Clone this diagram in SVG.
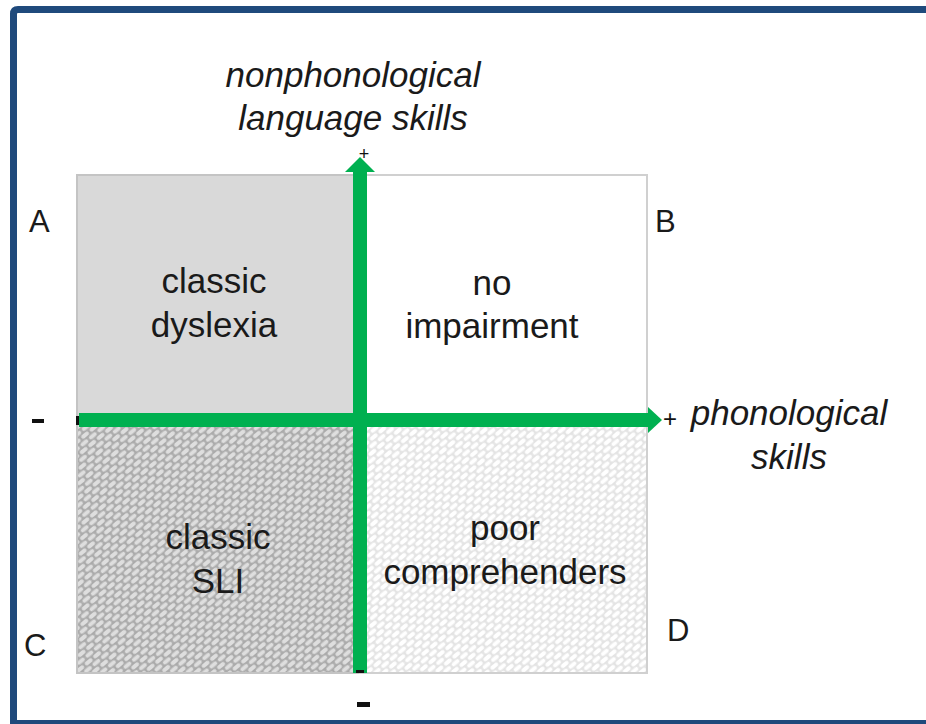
<svg xmlns="http://www.w3.org/2000/svg" width="926" height="724" viewBox="0 0 926 724">
  <style>
    .lbl { font-family: "Liberation Sans", Arial, sans-serif; font-size: 35px; fill: #1a1a1a; text-anchor: middle; }
    .ax { font-family: "Liberation Sans", Arial, sans-serif; font-size: 35px; font-style: italic; fill: #1a1a1a; text-anchor: middle; }
    .corner { font-family: "Liberation Sans", Arial, sans-serif; font-size: 31px; fill: #1a1a1a; }
    .plus { font-family: "Liberation Sans", Arial, sans-serif; fill: #111; text-anchor: middle; }
    .axis { stroke: #00B050; stroke-width: 14; fill: none; }
  </style>
  <defs>
    <!-- woven brick pattern, dark and light variants -->
    <pattern id="weaveDark" width="11" height="11" patternUnits="userSpaceOnUse" patternTransform="rotate(-40)">
      <rect width="11" height="11" fill="#ababab"/>
      <rect x="1" y="1" width="9" height="4" rx="2" fill="#dedede"/>
      <rect x="-4.5" y="6.5" width="9" height="4" rx="2" fill="#dedede"/>
      <rect x="6.5" y="6.5" width="9" height="4" rx="2" fill="#dedede"/>
    </pattern>
    <pattern id="weaveLight" width="11" height="11" patternUnits="userSpaceOnUse" patternTransform="rotate(-40)">
      <rect width="11" height="11" fill="#e4e4e4"/>
      <rect x="1" y="1" width="9" height="4" rx="2" fill="#ffffff"/>
      <rect x="-4.5" y="6.5" width="9" height="4" rx="2" fill="#ffffff"/>
      <rect x="6.5" y="6.5" width="9" height="4" rx="2" fill="#ffffff"/>
    </pattern>
  </defs>

  <rect width="926" height="724" fill="#ffffff"/>

  <!-- frame -->
  <path d="M13.5 724 V14 Q13.5 9.5 18 9.5 H926" fill="none" stroke="#1f4a7c" stroke-width="7"/>
  <rect x="10" y="720" width="916" height="4" fill="#1f4a7c"/>

  <!-- quadrants -->
  <g id="quadA">
    <rect x="77" y="175" width="283" height="246" fill="#d9d9d9" stroke="#c4c4c4" stroke-width="2"/>
    <text class="lbl" x="214" y="293">classic</text>
    <text class="lbl" x="214" y="337">dyslexia</text>
  </g>
  <g id="quadB">
    <rect x="360" y="175" width="287" height="246" fill="#ffffff" stroke="#d0d0d0" stroke-width="2"/>
    <text class="lbl" x="492" y="295">no</text>
    <text class="lbl" x="492" y="338">impairment</text>
  </g>
  <g id="quadC">
    <rect x="77" y="421" width="283" height="252" fill="url(#weaveDark)" stroke="#c4c4c4" stroke-width="2"/>
    <text class="lbl" x="218" y="549">classic</text>
    <text class="lbl" x="218" y="593">SLI</text>
  </g>
  <g id="quadD">
    <rect x="360" y="421" width="287" height="252" fill="url(#weaveLight)" stroke="#d0d0d0" stroke-width="2"/>
    <text class="lbl" x="505" y="540">poor</text>
    <text class="lbl" x="505" y="584">comprehenders</text>
  </g>

  <!-- axes -->
  <g id="connectors">
    <rect x="76" y="416" width="4" height="9" fill="#111"/>
    <line class="axis" x1="79" y1="420" x2="650" y2="420"/>
    <polygon points="648,407 662,420 648,433" fill="#00B050"/>
    <line class="axis" x1="360" y1="673" x2="360" y2="170"/>
    <polygon points="345,172 360,157 375,172" fill="#00B050"/>
    <rect x="356" y="670" width="8" height="3" fill="#111"/>
  </g>

  <!-- axis labels and signs -->
  <g id="axisLabels">
    <text class="ax" x="353" y="87">nonphonological</text>
    <text class="ax" x="353" y="130">language skills</text>
    <text class="ax" x="789" y="425">phonological</text>
    <text class="ax" x="789" y="469">skills</text>
    <text class="plus" x="364" y="160" font-size="18">+</text>
    <text class="plus" x="670" y="427" font-size="24">+</text>
    <rect x="32" y="419" width="12" height="4" fill="#111"/>
    <rect x="357" y="702" width="13" height="5" fill="#111"/>
  </g>

  <g id="corners">
    <text class="corner" x="29" y="232">A</text>
    <text class="corner" x="655" y="232">B</text>
    <text class="corner" x="24" y="656">C</text>
    <text class="corner" x="667" y="641">D</text>
  </g>
</svg>
